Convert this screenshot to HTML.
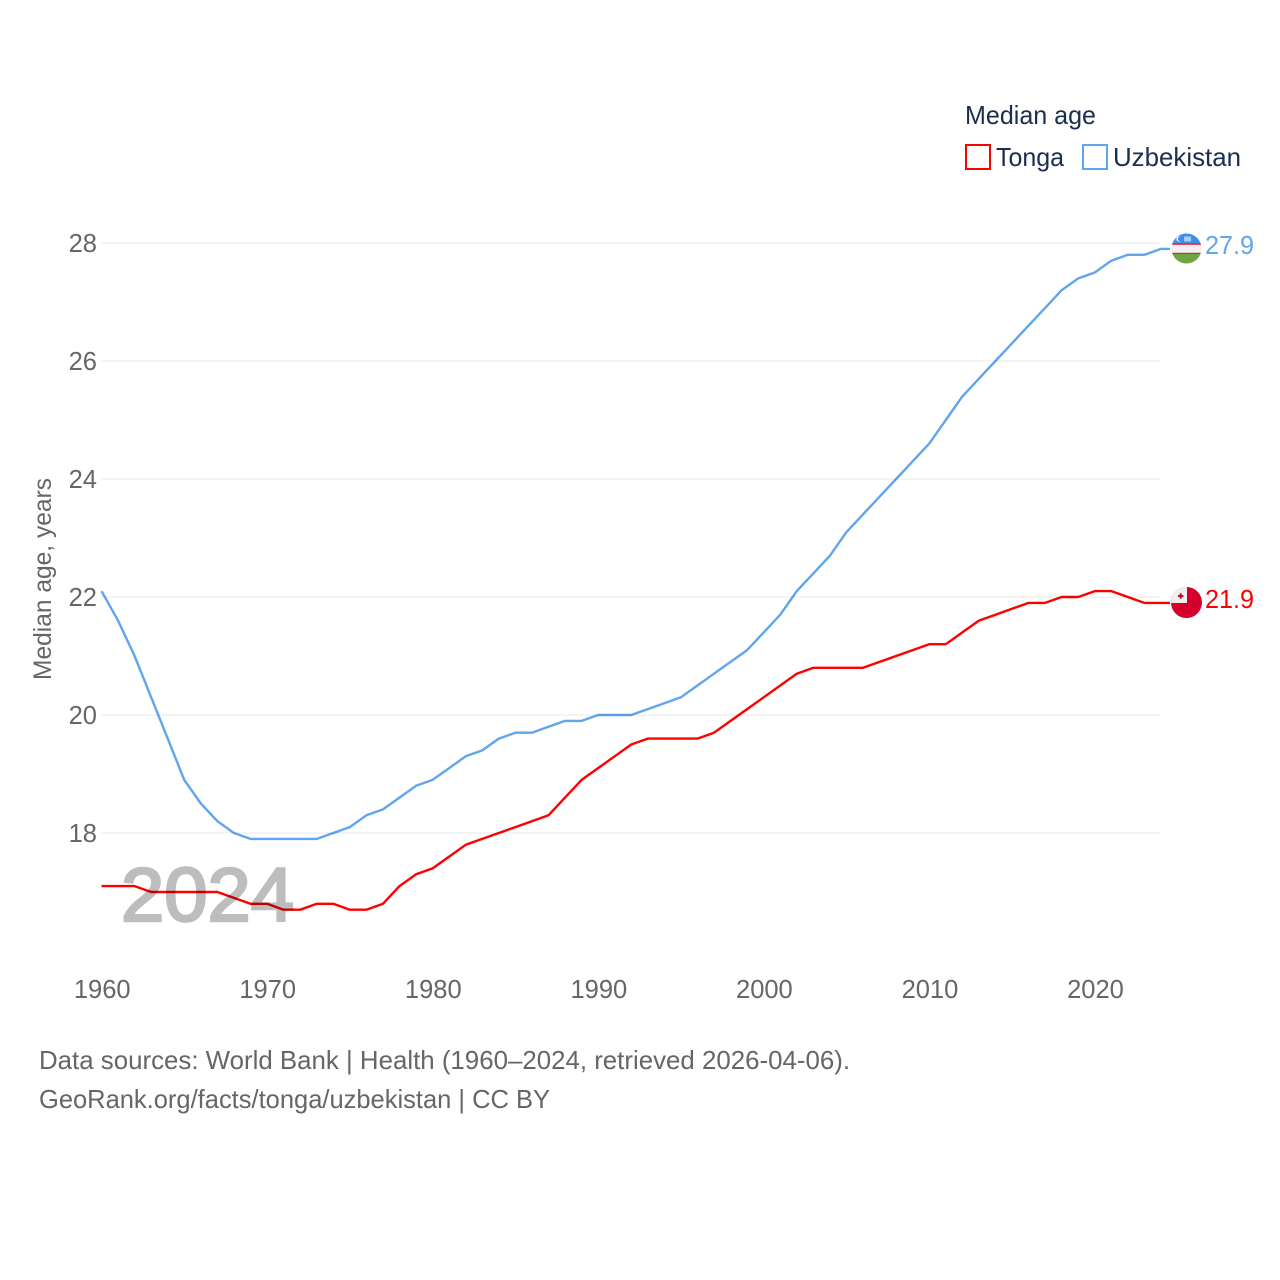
<!DOCTYPE html>
<html lang="en">
<head>
<meta charset="utf-8">
<title>Median age: Tonga and Uzbekistan</title>
<style>
html,body{margin:0;padding:0;background:#fff;}
svg{display:block;font-family:"Liberation Sans",sans-serif;}
</style>
</head>
<body>
<svg id="chart" width="1280" height="1280" viewBox="0 0 1280 1280" xmlns="http://www.w3.org/2000/svg">
  <rect width="1280" height="1280" fill="#ffffff"/>
  <g id="grid"></g>
  <g id="yticks"></g>
  <g id="xticks"></g>
  <text transform="translate(51,680) rotate(-90)" font-size="25" fill="#666666" textLength="202" lengthAdjust="spacingAndGlyphs">Median age, years</text>
  <text x="121" y="921" font-size="76" fill="#bdbdbd" stroke="#bdbdbd" stroke-width="2.6" textLength="173" lengthAdjust="spacingAndGlyphs">2024</text>
  <g id="series" style="mix-blend-mode:multiply"></g>

  <g>
    <text x="965" y="124" font-size="26" fill="#1a2e4f" textLength="131" lengthAdjust="spacingAndGlyphs">Median age</text>
    <g>
      <rect x="966" y="145" width="24" height="24" fill="#fff" stroke="#ff0000" stroke-width="2"/>
      <text x="996" y="166" font-size="26" fill="#1a2e4f" textLength="68" lengthAdjust="spacingAndGlyphs">Tonga</text>
    </g>
    <g>
      <rect x="1083" y="145" width="24" height="24" fill="#fff" stroke="#60a5ee" stroke-width="2"/>
      <text x="1113" y="166" font-size="26" fill="#1a2e4f" textLength="128" lengthAdjust="spacingAndGlyphs">Uzbekistan</text>
    </g>
  </g>

  <defs>
    <clipPath id="clip-uz"><circle cx="1186.5" cy="248.5" r="15"/></clipPath>
    <clipPath id="clip-to"><circle cx="1186.5" cy="602.5" r="15.5"/></clipPath>
  </defs>
  <g clip-path="url(#clip-uz)">
    <rect x="1171" y="233" width="31" height="11" fill="#3f8fe8"/>
    <rect x="1171" y="244" width="31" height="10" fill="#f4eef0"/>
    <rect x="1171" y="243.4" width="31" height="1.4" fill="#e0203c"/>
    <rect x="1171" y="252.8" width="31" height="1.4" fill="#e0203c"/>
    <rect x="1171" y="254" width="31" height="11" fill="#6fa644"/>
    <circle cx="1179" cy="239" r="2.6" fill="#ffffff"/>
    <circle cx="1180.2" cy="239" r="2.3" fill="#3f8fe8"/>
    <rect x="1184" y="236.5" width="7" height="5" fill="#a9cdf6"/>
  </g>
  <g clip-path="url(#clip-to)">
    <rect x="1171" y="587" width="31" height="31" fill="#d4002b"/>
    <rect x="1171" y="587" width="16" height="16" fill="#efefef"/>
    <rect x="1178" y="595" width="5.4" height="2" fill="#d4002b"/>
    <rect x="1179.7" y="593.3" width="2" height="5.4" fill="#d4002b"/>
  </g>
  <text x="1205" y="254" font-size="25.5" fill="#60a5ee" textLength="49" lengthAdjust="spacingAndGlyphs">27.9</text>
  <text x="1205" y="608" font-size="25.5" fill="#ff0000" textLength="49" lengthAdjust="spacingAndGlyphs">21.9</text>

  <text x="39" y="1069" font-size="26" fill="#666666" textLength="811" lengthAdjust="spacingAndGlyphs">Data sources: World Bank | Health (1960–2024, retrieved 2026-04-06).</text>
  <text x="39" y="1108" font-size="26" fill="#666666" textLength="511" lengthAdjust="spacingAndGlyphs">GeoRank.org/facts/tonga/uzbekistan | CC BY</text>
</svg>
<script>
const years = [1960,1961,1962,1963,1964,1965,1966,1967,1968,1969,1970,1971,1972,1973,1974,1975,1976,1977,1978,1979,1980,1981,1982,1983,1984,1985,1986,1987,1988,1989,1990,1991,1992,1993,1994,1995,1996,1997,1998,1999,2000,2001,2002,2003,2004,2005,2006,2007,2008,2009,2010,2011,2012,2013,2014,2015,2016,2017,2018,2019,2020,2021,2022,2023,2024];
const uzbekistan = [22.1,21.6,21.0,20.3,19.6,18.9,18.5,18.2,18.0,17.9,17.9,17.9,17.9,17.9,18.0,18.1,18.3,18.4,18.6,18.8,18.9,19.1,19.3,19.4,19.6,19.7,19.7,19.8,19.9,19.9,20.0,20.0,20.0,20.1,20.2,20.3,20.5,20.7,20.9,21.1,21.4,21.7,22.1,22.4,22.7,23.1,23.4,23.7,24.0,24.3,24.6,25.0,25.4,25.7,26.0,26.3,26.6,26.9,27.2,27.4,27.5,27.7,27.8,27.8,27.9];
const tonga = [17.1,17.1,17.1,17.0,17.0,17.0,17.0,17.0,16.9,16.8,16.8,16.7,16.7,16.8,16.8,16.7,16.7,16.8,17.1,17.3,17.4,17.6,17.8,17.9,18.0,18.1,18.2,18.3,18.6,18.9,19.1,19.3,19.5,19.6,19.6,19.6,19.6,19.7,19.9,20.1,20.3,20.5,20.7,20.8,20.8,20.8,20.8,20.9,21.0,21.1,21.2,21.2,21.4,21.6,21.7,21.8,21.9,21.9,22.0,22.0,22.1,22.1,22.0,21.9,21.9];
const yTickValues = [18,20,22,24,26,28];
const xTickValues = [1960,1970,1980,1990,2000,2010,2020];

const NS = 'http://www.w3.org/2000/svg';
const xScale = function (year) { return 101.5 + (year - 1960) * (1161 - 101.5) / 64; };
const yScale = function (value) { return 243 + (28 - value) * 59; };

const gridGroup = document.getElementById('grid');
const yGroup = document.getElementById('yticks');
const xGroup = document.getElementById('xticks');
const seriesGroup = document.getElementById('series');

yTickValues.forEach(function (v) {
  const line = document.createElementNS(NS, 'line');
  
  
  line.setAttribute('x1', 101.5);
  line.setAttribute('x2', 1161);
  line.setAttribute('y1', yScale(v));
  line.setAttribute('y2', yScale(v));
  line.setAttribute('stroke', '#e9e9e9');
  line.setAttribute('stroke-width', '1');
  gridGroup.appendChild(line);

  const label = document.createElementNS(NS, 'text');
  
  
  label.setAttribute('x', 97);
  label.setAttribute('y', yScale(v) + 9);
  label.setAttribute('text-anchor', 'end');
  label.setAttribute('font-size', '25.5');
  label.setAttribute('fill', '#666666');
  label.textContent = v;
  yGroup.appendChild(label);
});

xTickValues.forEach(function (y) {
  const label = document.createElementNS(NS, 'text');
  
  
  label.setAttribute('x', xScale(y) + 0.7);
  label.setAttribute('y', 998);
  label.setAttribute('text-anchor', 'middle');
  label.setAttribute('font-size', '25.5');
  label.setAttribute('fill', '#666666');
  label.textContent = y;
  xGroup.appendChild(label);
});

function drawSeries(values, color, name) {
  const pts = values.map(function (v, i) { return xScale(years[i]) + ',' + yScale(v); });
  const last = values[values.length - 1];
  pts.push('1170,' + yScale(last));
  const line = document.createElementNS(NS, 'polyline');
  
  
  line.setAttribute('points', pts.join(' '));
  line.setAttribute('fill', 'none');
  line.setAttribute('stroke', color);
  line.setAttribute('stroke-width', '2.4');
  line.setAttribute('stroke-linejoin', 'round');
  seriesGroup.appendChild(line);
}
drawSeries(uzbekistan, '#60a5ee', 'line-uzbekistan');
drawSeries(tonga, '#ff0000', 'line-tonga');
</script>
</body>
</html>
